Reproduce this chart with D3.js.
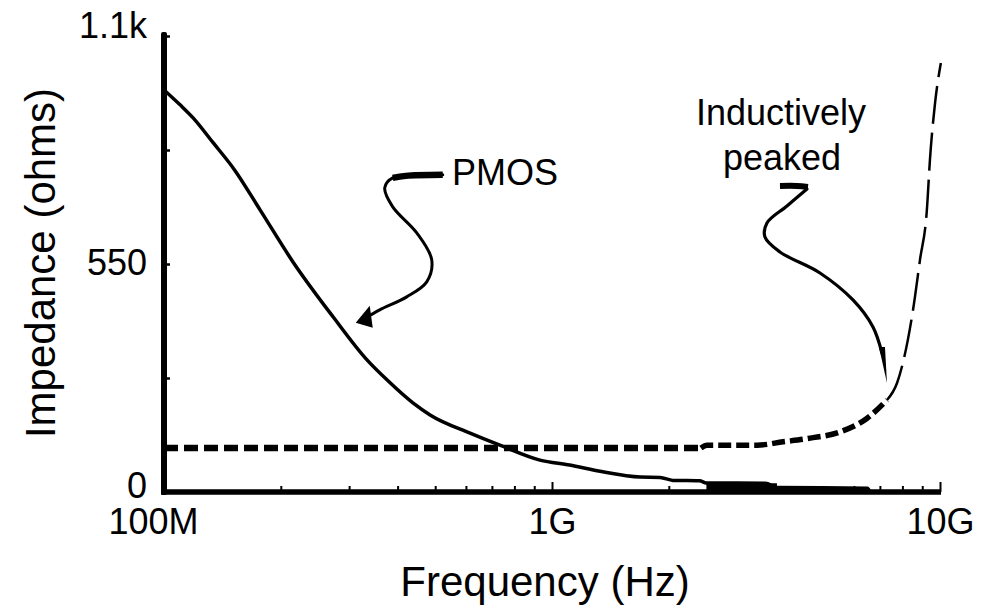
<!DOCTYPE html>
<html>
<head>
<meta charset="utf-8">
<script src="https://cdn.jsdelivr.net/npm/d3@7/dist/d3.min.js"></script>
<style>
  html, body { margin: 0; padding: 0; background: #fff; }
  svg { display: block; }
  text { font-family: "Liberation Sans", Arial, Helvetica, sans-serif; fill: #000; }
</style>
</head>
<body>
<svg id="chart" width="982" height="612"></svg>
<script>
// Frequency ticks (Hz)
const freqMajorTicks = [1e8, 1e9, 1e10];
const freqMajorLabels = ["100M", "1G", "10G"];
const freqMinorTicks = [2e8, 3e8, 4e8, 5e8, 6e8, 7e8, 8e8, 9e8,
                        2e9, 3e9, 4e9, 5e9, 6e9, 7e9, 8e9, 9e9];

// Impedance ticks (ohms)
const impedanceTicks = [0, 275, 550, 825, 1100];
const impedanceLabels = ["0", "", "550", "", "1.1k"];

// PMOS load impedance vs frequency
const pmosFreq = [1.0e8, 1.10e8, 1.19e8, 1.34e8, 1.52e8, 1.77e8, 2.15e8, 2.73e8,
                  3.34e8, 3.76e8, 4.38e8, 4.85e8, 6.15e8, 7.34e8, 9.31e8, 1.11e9,
                  1.33e9, 1.69e9, 1.9e9, 2.05e9, 2.4e9, 2.5e9, 3.55e9, 3.8e9,
                  6.5e9, 6.6e9];
const pmosZ    = [970, 934, 902, 842, 777, 680, 555, 422,
                  318, 270, 215, 186, 142, 113, 77, 65,
                  50, 36, 35, 28, 27, 22, 21, 11,
                  9, 0];

// Inductively peaked load impedance vs frequency
const peakFreq = [1e8, 2.42e9, 2.51e9, 3.38e9, 3.94e9, 4.63e9, 5.53e9, 6.49e9,
                  7.30e9, 7.75e9, 8.52e9, 8.88e9, 9.25e9, 9.42e9, 9.71e9, 1.005e10];
const peakZ    = [106, 106, 113, 113, 121, 130, 145, 178,
                  222, 263, 439, 560, 680, 801, 938, 1035];

const svg = d3.select("#chart");
const font = "Liberation Sans, Arial, Helvetica, sans-serif";

const x = d3.scaleLog().domain([1e8, 1e10]).range([164, 940]);
const y = d3.scaleLinear().domain([0, 1100]).range([492, 36]);

const pmos = pmosFreq.map((f, i) => ({ f, z: pmosZ[i] }));
const peak = peakFreq.map((f, i) => ({ f, z: peakZ[i] }));

const line = d3.line().x(d => x(d.f)).y(d => y(d.z)).curve(d3.curveMonotoneX);

// ---- x axis: minor ticks, major ticks with labels ----
const xMinor = svg.append("g").attr("transform", `translate(0,${y(0)})`)
  .call(d3.axisBottom(x).tickValues(freqMinorTicks).tickSize(-6).tickSizeOuter(0).tickFormat(""));
xMinor.select(".domain").remove();
xMinor.selectAll(".tick line").style("stroke", "#000").style("stroke-width", "2px");

const xMajor = svg.append("g").attr("transform", `translate(0,${y(0)})`)
  .call(d3.axisBottom(x).tickValues(freqMajorTicks).tickSize(-10).tickSizeOuter(0)
        .tickPadding(16).tickFormat((d, i) => freqMajorLabels[i]));
xMajor.select(".domain").remove();
xMajor.selectAll(".tick line").style("stroke", "#000").style("stroke-width", "2px");
xMajor.selectAll(".tick text").attr("font-size", 36).attr("font-family", font).attr("fill", "#000")
  .attr("dx", (d, i) => i === 0 ? -11 : 0);
xMajor.selectAll(".tick").filter(d => d === 1e8).select("line").remove();

// ---- y axis ----
const yAx = svg.append("g").attr("transform", `translate(${x(1e8)},0)`)
  .call(d3.axisLeft(y).tickValues(impedanceTicks).tickSize(-6).tickSizeOuter(0)
        .tickPadding(17).tickFormat((d, i) => impedanceLabels[i]));
yAx.select(".domain").remove();
yAx.selectAll(".tick line").style("stroke", "#000").style("stroke-width", "2.5px");
const yNudge = { 0: -6, 550: -1, 1100: -10 };
yAx.selectAll(".tick text").attr("font-size", 36).attr("font-family", font).attr("fill", "#000")
  .attr("transform", d => `translate(0,${yNudge[d] || 0})`);

// axis bars (solid, heavy)
svg.append("rect")
  .attr("x", x(1e8) - 3).attr("width", 6)
  .attr("y", y(1100) - 4).attr("height", y(0) + 3 - (y(1100) - 4))
  .attr("rx", 2)
  .style("fill", "#000");
svg.append("rect")
  .attr("x", x(1e8) - 3).attr("width", x(1e10) + 1 - (x(1e8) - 3))
  .attr("y", y(0) - 2.75).attr("height", 5.5)
  .style("fill", "#000");

// ---- PMOS curve ----
const tail = pmos.filter(d => d.f >= 2.5e9);
svg.append("path").datum(tail)
  .style("fill", "#000")
  .attr("d", d3.area().x(d => x(d.f)).y0(y(0)).y1(d => y(d.z)).curve(d3.curveStepAfter));
svg.append("path").datum(pmos)
  .style("fill", "none").style("stroke", "#000").style("stroke-width", "3.5px")
  .style("stroke-linejoin", "round")
  .attr("d", line);

// ---- Inductively peaked curve (dashed, three stroke weights) ----
const peakFlat  = peak.filter(d => d.f <= 2.42e9);
const peakBend  = peak.filter(d => d.f >= 2.42e9 && d.f <= 7.30e9);
const peakSteep = peak.filter(d => d.f >= 7.30e9);

function dashed(data, width, dash) {
  svg.append("path").datum(data)
    .style("fill", "none").style("stroke", "#000").style("stroke-width", width + "px")
    .style("stroke-dasharray", dash).attr("d", line);
}
dashed(peakFlat, 6.5, "14 6");
dashed(peakBend, 5.5, "13 5");
dashed(peakSteep, 2.5, "38 9");

// ---- axis titles ----
svg.append("text")
  .attr("x", 545).attr("y", 596)
  .attr("text-anchor", "middle").attr("font-size", 42)
  .text("Frequency (Hz)");
svg.append("text")
  .attr("transform", "translate(55,263) rotate(-90)")
  .attr("text-anchor", "middle").attr("font-size", 42)
  .text("Impedance (ohms)");

// ---- callout arrows ----
const curvy = d3.line().curve(d3.curveCatmullRom.alpha(0.5));

function arrow(tip, body, head, bar, barWidth, bodyWidth) {
  const pts = body.map(p => [tip[0] + p[0], tip[1] + p[1]]);
  svg.append("path")
    .attr("d", curvy(pts))
    .style("fill", "none").style("stroke", "#000")
    .style("stroke-width", bodyWidth + "px").style("stroke-linecap", "round");
  const barPts = bar.map(p => [tip[0] + p[0], tip[1] + p[1]]);
  svg.append("path")
    .attr("d", curvy(barPts))
    .style("fill", "none").style("stroke", "#000")
    .style("stroke-width", barWidth + "px");
  svg.append("path")
    .attr("d", "M" + [tip].concat(head.map(p => [tip[0] + p[0], tip[1] + p[1]])).join("L") + "Z")
    .style("fill", "#000");
}

// PMOS callout
const pmosTip = [x(3.12e8), y(408)];
arrow(pmosTip,
  [[87, -148], [37, -145], [29, -135], [37, -116], [61, -90], [76, -63], [71, -41], [51, -26], [24, -13], [10, -5]],
  [[14, -17], [17, 5]],
  [[87, -148], [50, -147], [37, -145]],
  6.5, 3);
svg.append("text").attr("x", 452).attr("y", 185).attr("font-size", 36).text("PMOS");

// Inductively peaked callout
const peakTip = [x(7.3e9), y(263)];
arrow(peakTip,
  [[-80, -194], [-100, -177], [-120, -160], [-122, -146], [-107, -131], [-67, -110], [-34, -83], [-14, -56], [-5, -30]],
  [[-8, -36], [-2, -36]],
  [[-107, -197], [-90, -197], [-79, -196]],
  6, 3.2);
svg.append("text").attr("x", 781).attr("y", 125).attr("text-anchor", "middle").attr("font-size", 36).text("Inductively");
svg.append("text").attr("x", 782).attr("y", 170).attr("text-anchor", "middle").attr("font-size", 36).text("peaked");
</script>
</body>
</html>
